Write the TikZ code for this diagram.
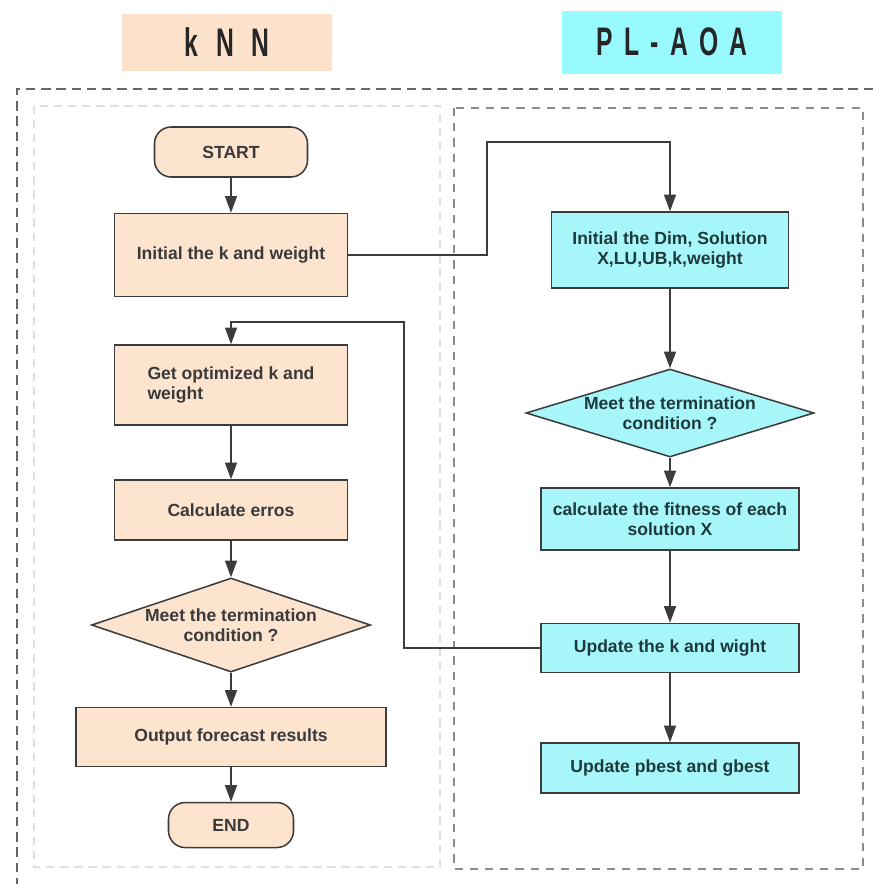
\documentclass[tikz,border=0pt]{standalone}
\usepackage{fontspec}
\setmainfont{Liberation Sans}
\newfontfamily\titlefont[FakeStretch=0.62,LetterSpace=28]{Liberation Sans}
\usepackage{xcolor}
\usetikzlibrary {shapes.geometric}
\usetikzlibrary {arrows.meta,positioning,calc}
\definecolor{KnnBackground}{HTML}{FCE4CF}
\definecolor{KnnTitleBackground}{HTML}{FCE2CB}
\definecolor{AoaBackground}{HTML}{A6F6FA}
\definecolor{AoaTitleBackground}{HTML}{98FAFF}
\definecolor{LineColor}{HTML}{3C3C3C}
\definecolor{KnnText}{HTML}{3A3A3A}
\definecolor{AoaText}{HTML}{1E3A3C}
\tikzstyle{TitleNode} =[font=\titlefont\bfseries\fontsize{34}{34}\selectfont,text=black!85,minimum height=1.71cm,minimum width=6.3cm]
\tikzstyle{ProcessStepNode} =[draw=LineColor,line width=1.3pt,font=\bfseries\fontsize{15}{17}\selectfont,align=center]
\tikzstyle{KnnStep} =[ProcessStepNode,fill=KnnBackground,text=KnnText,minimum width=6.99cm]
\tikzstyle{AoaStep} =[ProcessStepNode,fill=AoaBackground,text=AoaText,minimum width=7.74cm]
\tikzstyle{Terminal} =[KnnStep,rounded corners=0.5cm]
\tikzstyle{Decision} =[ProcessStepNode,diamond,aspect=3,inner xsep=-0.3cm,inner ysep=-0.1cm]
\tikzstyle{Flow} =[draw=LineColor,line width=1.3pt]
\tikzstyle{OuterFrame} =[-,draw=black!60,line width=1.6pt,dash pattern=on 8pt off 5pt]
\tikzstyle{KnnFrame} =[-,draw=black!12,line width=1pt,dash pattern=on 7pt off 5pt]
\tikzstyle{AoaFrame} =[-,draw=black!45,line width=1pt,dash pattern=on 7pt off 6pt]

\begin{document}
\begin{tikzpicture}[->,>={Triangle[length=5mm,width=3.6mm]},x=0.03cm,y=-0.03cm,on grid,semithick]
    \useasboundingbox (0,0) rectangle (873,884);

    % frames
    \draw[OuterFrame] (873,89) -| (17,884);
    \draw[KnnFrame] (34,106) rectangle (440,867);
    \draw[AoaFrame] (454,108) rectangle (863,869);

    \node[TitleNode,fill=KnnTitleBackground](kNN-Title) at (227,42){k N N};
    \node[TitleNode,fill=AoaTitleBackground,minimum width=6.6cm,minimum height=1.89cm](PL-AOA-Title) at (672,42){PL-AOA};

    % kNN side
    \node[Terminal,minimum width=4.59cm,minimum height=1.5cm](Start) at (231,152){START};
    \node[KnnStep,minimum height=2.49cm,below=3.09cm of Start](Initial-K-Weight){Initial the k and weight};
    \node[KnnStep,minimum height=2.4cm,align=left,below=3.9cm of Initial-K-Weight](Get-Optimized){Get optimized k and\\weight};
    \node[KnnStep,minimum height=1.8cm,below=3.75cm of Get-Optimized](Calculate-Errors){Calculate erros};
    \node[Decision,fill=KnnBackground,text=KnnText,minimum width=8.37cm,minimum height=2.82cm,below=3.45cm of Calculate-Errors](Knn-Termination){Meet the termination\\condition ?};
    \node[KnnStep,minimum width=9.3cm,minimum height=1.77cm,below=3.36cm of Knn-Termination](Output-Results){Output forecast results};
    \node[Terminal,minimum width=3.75cm,minimum height=1.35cm,below=2.64cm of Output-Results](End){END};

    % PL-AOA side
    \node[AoaStep,minimum width=7.11cm,minimum height=2.28cm](Initial-Dim) at (670,250){Initial the Dim, Solution\\X,LU,UB,k,weight};
    \node[Decision,fill=AoaBackground,text=AoaText,aspect=3.27,minimum width=8.64cm,minimum height=2.64cm,below=4.89cm of Initial-Dim](Aoa-Termination){Meet the termination\\condition ?};
    \node[AoaStep,minimum height=1.86cm,below=3.18cm of Aoa-Termination](Fitness){calculate the fitness of each\\solution X};
    \node[AoaStep,minimum height=1.47cm,below=3.87cm of Fitness](Update-K-Weight){Update the k and wight};
    \node[AoaStep,minimum height=1.5cm,below=3.6cm of Update-K-Weight](Update-Best){Update pbest and gbest};

    \coordinate (Bridge-Top) at (487,142);
    \coordinate (Loop-Top) at (404,322);

    \draw[Flow] (Start) -- (Initial-K-Weight);
    \draw[Flow] (Get-Optimized) -- (Calculate-Errors);
    \draw[Flow] (Calculate-Errors) -- (Knn-Termination);
    \draw[Flow] (Knn-Termination) -- (Output-Results);
    \draw[Flow] (Output-Results) -- (End);
    \draw[Flow] (Initial-K-Weight) -| (Bridge-Top) -| (Initial-Dim);
    \draw[Flow] (Initial-Dim) -- (Aoa-Termination);
    \draw[Flow] (Aoa-Termination) -- (Fitness);
    \draw[Flow] (Fitness) -- (Update-K-Weight);
    \draw[Flow] (Update-K-Weight) -- (Update-Best);
    \draw[Flow] (Update-K-Weight) -| (Loop-Top) -| (Get-Optimized);
\end{tikzpicture}
\end{document}
